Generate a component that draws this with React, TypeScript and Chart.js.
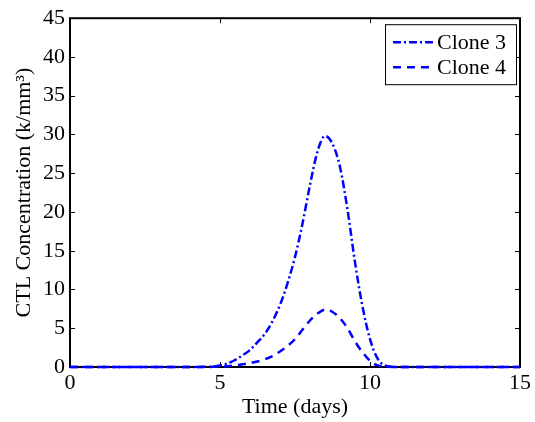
import React, { useEffect, useRef } from "react";
import { Chart, registerables } from "chart.js";

Chart.register(...registerables);

const times = [0, 1, 2, 3, 4, 4.5, 4.75, 5, 5.25, 5.5, 5.75, 6, 6.25, 6.5, 6.75, 7, 7.25, 7.5, 7.75, 8, 8.25, 8.5, 8.75, 9, 9.25, 9.5, 9.75, 10, 10.25, 10.5, 10.75, 11, 12, 13, 14, 15];
const clone3 = [0, 0, 0, 0, 0, 0.02, 0.05, 0.2, 0.45, 0.9, 1.5, 2.2, 3.2, 4.3, 5.9, 8.0, 10.8, 14.2, 18.5, 23.5, 27.8, 29.8, 28.8, 25.8, 20.3, 13.5, 7.8, 3.6, 1.1, 0.2, 0.03, 0, 0, 0, 0, 0];
const clone4 = [0, 0, 0, 0, 0, 0, 0.02, 0.05, 0.1, 0.2, 0.35, 0.5, 0.7, 1.0, 1.4, 2.0, 2.7, 3.6, 4.8, 6.0, 6.9, 7.4, 7.1, 6.3, 5.0, 3.3, 1.9, 0.8, 0.2, 0.05, 0, 0, 0, 0, 0, 0];
const seriesNames = ["Clone 3", "Clone 4"];
const xTicks = [0, 5, 10, 15];
const yTicks = [0, 5, 10, 15, 20, 25, 30, 35, 40, 45];
const xTitle = "Time (days)";
const yTitle = "CTL Concentration (k/mm³)";

const FONT = "'Liberation Serif', 'Times New Roman', serif";
const BLUE = "#0000ff";
const dashes = [[8, 3, 2, 3], [8, 6]];

const framePlugin = {
  id: "frame",
  beforeDatasetsDraw(chart: any) {
    const { ctx, chartArea: a, scales } = chart;
    ctx.save();
    ctx.strokeStyle = "#000";
    ctx.lineWidth = 1;
    const tl = 5;
    ctx.beginPath();
    xTicks.forEach((v) => {
      const px = Math.round(scales.x.getPixelForValue(v)) + 0.5;
      ctx.moveTo(px, a.bottom);
      ctx.lineTo(px, a.bottom - tl);
      ctx.moveTo(px, a.top);
      ctx.lineTo(px, a.top + tl);
    });
    yTicks.forEach((v) => {
      const py = Math.round(scales.y.getPixelForValue(v)) + 0.5;
      ctx.moveTo(a.left, py);
      ctx.lineTo(a.left + tl, py);
      ctx.moveTo(a.right, py);
      ctx.lineTo(a.right - tl, py);
    });
    ctx.stroke();
    ctx.lineWidth = 2;
    ctx.strokeRect(a.left, a.top, a.right - a.left, a.bottom - a.top);
    ctx.restore();
  },
  afterDraw(chart: any) {
    const { ctx, chartArea: a } = chart;
    const w = 131;
    const h = 60;
    const left = a.right - 4 - w;
    const top = a.top + 6;
    ctx.save();
    ctx.fillStyle = "#fff";
    ctx.fillRect(left, top, w, h);
    ctx.strokeStyle = "#000";
    ctx.lineWidth = 1;
    ctx.strokeRect(left + 0.5, top + 0.5, w, h);
    ctx.font = `22px ${FONT}`;
    ctx.textBaseline = "middle";
    ctx.textAlign = "left";
    seriesNames.forEach((name, i) => {
      const cy = top + 18 + i * 25;
      ctx.strokeStyle = BLUE;
      ctx.lineWidth = 2.5;
      ctx.setLineDash(dashes[i]);
      ctx.beginPath();
      ctx.moveTo(left + 8, cy);
      ctx.lineTo(left + 48, cy);
      ctx.stroke();
      ctx.setLineDash([]);
      ctx.fillStyle = "#000";
      ctx.fillText(name, left + 52, cy + 1);
    });
    ctx.restore();
  },
};

export default function App() {
  const ref = useRef<HTMLCanvasElement>(null);
  useEffect(() => {
    if (!ref.current) return;
    const series = [clone3, clone4];
    const chart = new Chart(ref.current, {
      type: "line",
      data: {
        datasets: series.map((vals, i) => ({
          label: seriesNames[i],
          data: times.map((t, j) => ({ x: t, y: vals[j] })),
          borderColor: BLUE,
          borderWidth: 2.5,
          borderDash: dashes[i],
          pointRadius: 0,
          fill: false,
          cubicInterpolationMode: "monotone" as const,
          clip: 6,
        })),
      },
      options: {
        responsive: false,
        animation: false,
        devicePixelRatio: 1,
        layout: { padding: { left: 0, right: 15, top: 16, bottom: 0 } },
        plugins: { legend: { display: false }, tooltip: { enabled: false } },
        scales: {
          x: {
            type: "linear",
            min: 0,
            max: 15,
            afterBuildTicks: (s: any) => { s.ticks = xTicks.map((v) => ({ value: v })); },
            grid: { display: false, drawTicks: false },
            border: { display: false },
            ticks: { color: "#000", font: { family: FONT, size: 22 }, padding: 3, maxRotation: 0 },
            title: { display: true, text: xTitle, color: "#000", font: { family: FONT, size: 22 }, padding: { top: 0, bottom: 2 } },
            afterFit: (s: any) => { s.height = 55; },
          },
          y: {
            type: "linear",
            min: 0,
            max: 45,
            afterBuildTicks: (s: any) => { s.ticks = yTicks.map((v) => ({ value: v })); },
            grid: { display: false, drawTicks: false },
            border: { display: false },
            ticks: { color: "#000", font: { family: FONT, size: 22 }, padding: 5 },
            title: { display: true, text: yTitle, color: "#000", font: { family: FONT, size: 22 }, padding: { top: 11, bottom: 0 } },
            afterFit: (s: any) => { s.width = 70; },
          },
        },
      },
      plugins: [framePlugin],
    });
    return () => chart.destroy();
  }, []);
  return (
    <div style={{ position: "fixed", left: 0, top: 0, width: 535, height: 422, background: "#fff" }}>
      <canvas ref={ref} width={535} height={422} style={{ display: "block" }} />
    </div>
  );
}
